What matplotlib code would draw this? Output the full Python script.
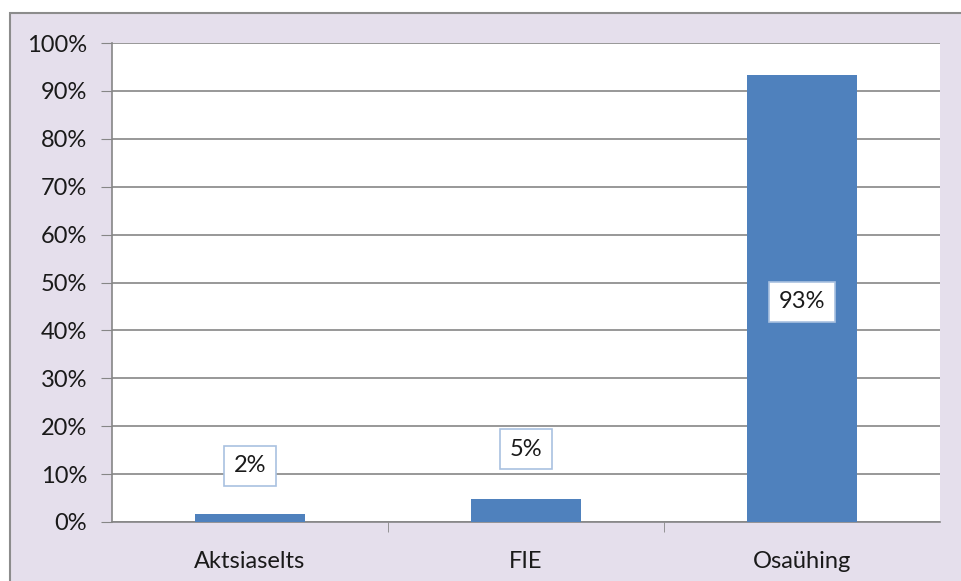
import matplotlib
matplotlib.use("Agg")
import matplotlib.pyplot as plt
from matplotlib.patches import Rectangle
from matplotlib.ticker import PercentFormatter

categories = ["Aktsiaselts", "FIE", "Osaühing"]
values = [1.6, 4.9, 93.3]
labels = ["2%", "5%", "93%"]
label_y = [11.7, 15.2, 46.0]
yticks = list(range(0, 101, 10))

W, H = 962, 581
fig = plt.figure(figsize=(W / 100, H / 100), dpi=100)
fig.patch.set_facecolor("white")
bg = Rectangle((10 / W, -0.05), 1.2, (H - 13) / H + 0.05, transform=fig.transFigure,
               facecolor="#E5DFEC", edgecolor="#8C8C8C", linewidth=1.5, zorder=-10)
fig.patches.append(bg)

ax = fig.add_axes([112 / W, 1 - 522 / H, (940 - 112) / W, (522 - 43) / H])
ax.set_zorder(1)
ax.set_facecolor("white")
x = list(range(len(categories)))
ax.bar(x, values, width=0.4, color="#4F81BD", zorder=3)
ax.set_xlim(-0.5, 2.5)
ax.set_ylim(0, 100)
ax.set_yticks(yticks)
ax.yaxis.set_major_formatter(PercentFormatter(decimals=0))
ax.set_xticks(x)
ax.set_xticklabels(categories)
ax.set_xticks([0.5, 1.5], minor=True)
ax.tick_params(axis="x", which="major", length=0, pad=21)
ax.tick_params(axis="x", which="minor", length=7, color="#868686")
ax.tick_params(axis="y", length=8, color="#868686", pad=10)
ax.grid(axis="y", color="#868686", linewidth=1.2, zorder=1)
for s in ["top", "right"]:
    ax.spines[s].set_visible(False)
for s in ["left", "bottom"]:
    ax.spines[s].set_color("#868686")
    ax.spines[s].set_linewidth(1.2)
for lbl in ax.get_xticklabels() + ax.get_yticklabels():
    lbl.set_fontfamily("Lato")
    lbl.set_fontsize(17)
    lbl.set_color("#1a1a1a")

for xi, t, ly in zip(x, labels, label_y):
    ax.text(xi, ly, t, ha="center", va="center", fontsize=17, family="Lato", color="#1a1a1a",
            zorder=5,
            bbox=dict(boxstyle="square,pad=0.4", facecolor="white", edgecolor="#A9C1E0", linewidth=1.2))

fig.savefig("out.png", dpi=100, facecolor=fig.get_facecolor())
